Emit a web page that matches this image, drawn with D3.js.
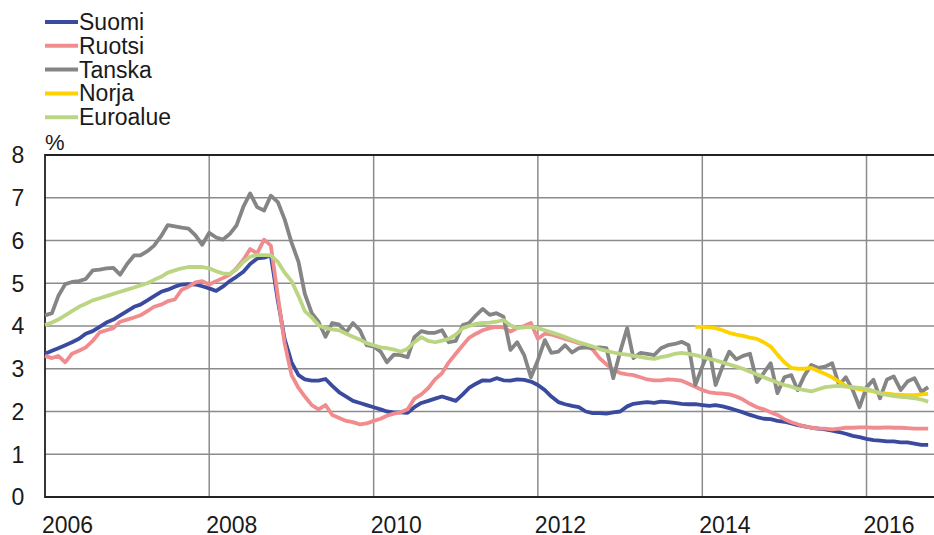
<!DOCTYPE html>
<html>
<head>
<meta charset="utf-8">
<script src="https://cdn.jsdelivr.net/npm/d3@7"></script>
<style>
  body { margin: 0; background: #fff; }
  svg { display: block; }
  text { font-family: "Liberation Sans", Arial, sans-serif; fill: #1a1a1a; }
</style>
</head>
<body>
<svg id="chart" width="934" height="535"></svg>
<script>
// ------------------------------------------------------
// DATA (monthly, first value = January 2006)
// ------------------------------------------------------

var startMonth = new Date(2006, 0, 1);

var suomi = [
  3.35, 3.42, 3.48, 3.55, 3.62, 3.7, 3.82, 3.88, 3.98, 4.08, 4.15, 4.25,   // 2006
  4.35, 4.45, 4.5, 4.6, 4.7, 4.8, 4.85, 4.92, 4.97, 4.98, 4.97, 4.93,      // 2007
  4.88, 4.82, 4.92, 5.05, 5.15, 5.27, 5.45, 5.58, 5.6, 5.65, 4.6, 3.7,     // 2008
  3.15, 2.85, 2.75, 2.72, 2.72, 2.76, 2.6, 2.45, 2.35, 2.25, 2.2, 2.15,    // 2009
  2.1, 2.05, 2.0, 1.98, 1.98, 1.97, 2.1, 2.2, 2.25, 2.3, 2.35, 2.3,        // 2010
  2.25, 2.4, 2.55, 2.65, 2.73, 2.72, 2.78, 2.73, 2.72, 2.75, 2.74, 2.7,    // 2011
  2.62, 2.5, 2.35, 2.22, 2.17, 2.13, 2.1, 2.0, 1.96, 1.96, 1.95, 1.98,     // 2012
  2.0, 2.12, 2.18, 2.2, 2.22, 2.2, 2.23, 2.22, 2.2, 2.18, 2.17, 2.17,      // 2013
  2.15, 2.13, 2.15, 2.12, 2.08, 2.03, 1.98, 1.92, 1.87, 1.83, 1.82, 1.78,  // 2014
  1.76, 1.72, 1.68, 1.65, 1.62, 1.6, 1.58, 1.55, 1.52, 1.48, 1.43, 1.4,    // 2015
  1.36, 1.33, 1.32, 1.3, 1.3, 1.28, 1.28, 1.25, 1.22, 1.22                 // 2016
];

var ruotsi = [
  3.3, 3.25, 3.3, 3.15, 3.35, 3.42, 3.5, 3.65, 3.85, 3.9, 3.95, 4.1,
  4.15, 4.2, 4.25, 4.35, 4.45, 4.5, 4.58, 4.62, 4.85, 4.92, 5.02, 5.05,
  4.97, 5.05, 5.12, 5.2, 5.35, 5.55, 5.8, 5.7, 6.02, 5.88, 4.7, 3.6,
  2.85, 2.55, 2.35, 2.15, 2.05, 2.15, 1.92, 1.85, 1.78, 1.75, 1.7, 1.72,
  1.78, 1.83, 1.9, 1.95, 1.98, 2.05, 2.3, 2.4, 2.55, 2.75, 2.9, 3.15,
  3.35, 3.55, 3.72, 3.82, 3.9, 3.95, 3.98, 3.97, 3.87, 3.95, 4.0, 4.07,
  3.7, 3.82, 3.8, 3.75, 3.7, 3.65, 3.6, 3.55, 3.45, 3.25, 3.1, 2.98,
  2.9, 2.87, 2.85, 2.8, 2.75, 2.73, 2.73, 2.75, 2.74, 2.72, 2.65, 2.58,
  2.5, 2.45, 2.43, 2.42, 2.4, 2.35, 2.28, 2.18, 2.1, 2.05, 1.98, 1.92,
  1.82, 1.75, 1.7, 1.65, 1.62, 1.6, 1.6, 1.58, 1.6, 1.62, 1.62, 1.63,
  1.63, 1.62, 1.62, 1.63, 1.62, 1.62, 1.61, 1.6, 1.6, 1.6
];

var tanska = [
  4.25, 4.3, 4.7, 4.98, 5.03, 5.05, 5.1, 5.3, 5.32, 5.35, 5.36, 5.2,
  5.45, 5.65, 5.65, 5.75, 5.88, 6.1, 6.36, 6.33, 6.3, 6.28, 6.12, 5.9,
  6.18, 6.07, 6.02, 6.15, 6.35, 6.79, 7.1, 6.78, 6.7, 7.05, 6.9, 6.5,
  5.95, 5.5, 4.75, 4.3, 4.1, 3.75, 4.07, 4.03, 3.85, 4.07, 3.9, 3.55,
  3.52, 3.4, 3.15, 3.33, 3.32, 3.27, 3.74, 3.88, 3.84, 3.84, 3.9, 3.62,
  3.65, 4.02, 4.07, 4.25, 4.4, 4.26, 4.3, 4.22, 3.44, 3.62, 3.32, 2.8,
  3.2, 3.67, 3.37, 3.4, 3.55, 3.38, 3.48, 3.5, 3.48, 3.5, 3.48, 2.78,
  3.4, 3.95, 3.25, 3.37, 3.35, 3.32, 3.48, 3.55, 3.58, 3.63, 3.55, 2.62,
  3.05, 3.44, 2.62, 3.05, 3.4, 3.22, 3.3, 3.35, 2.69, 2.9, 3.13, 2.43,
  2.8, 2.85, 2.5, 2.85, 3.09, 3.02, 3.05, 3.13, 2.62, 2.8, 2.5, 2.1,
  2.57, 2.74, 2.31, 2.75, 2.82, 2.5, 2.7, 2.78, 2.46, 2.57
];

// Norja starts later (December 2013 = month 95)
var norjaStart = 95;
var norja = [
  3.98,
  3.98, 3.97, 3.95, 3.9, 3.84, 3.8, 3.77, 3.73, 3.7, 3.62, 3.52, 3.33,
  3.15, 3.02, 3.0, 3.0, 3.02, 2.95, 2.88, 2.8, 2.7, 2.6, 2.55, 2.52,
  2.5, 2.47, 2.43, 2.42, 2.4, 2.39, 2.38, 2.38, 2.4, 2.41
];

var euroalue = [
  4.02, 4.08, 4.15, 4.25, 4.35, 4.45, 4.52, 4.6, 4.65, 4.7, 4.75, 4.8,
  4.85, 4.9, 4.95, 5.0, 5.08, 5.15, 5.25, 5.3, 5.35, 5.38, 5.38, 5.38,
  5.35, 5.28, 5.23, 5.22, 5.32, 5.5, 5.62, 5.66, 5.66, 5.65, 5.5, 5.25,
  5.05, 4.7, 4.35, 4.2, 4.02, 3.95, 3.92, 3.9, 3.82, 3.75, 3.68, 3.6,
  3.55, 3.5, 3.48, 3.45, 3.4, 3.47, 3.62, 3.74, 3.65, 3.62, 3.66, 3.7,
  3.8, 3.95, 4.0, 4.05, 4.07, 4.08, 4.1, 4.14, 4.02, 3.95, 3.97, 3.98,
  3.95, 3.9, 3.85, 3.8, 3.74, 3.68, 3.62, 3.57, 3.52, 3.46, 3.42, 3.38,
  3.35, 3.33, 3.3, 3.28, 3.25, 3.23, 3.27, 3.3, 3.35, 3.37, 3.35, 3.32,
  3.28, 3.23, 3.2, 3.15, 3.1, 3.05, 3.0, 2.93, 2.87, 2.8, 2.74, 2.68,
  2.62, 2.58, 2.53, 2.5, 2.47, 2.52, 2.57, 2.59, 2.6, 2.58, 2.57, 2.55,
  2.53, 2.48, 2.42, 2.39, 2.36, 2.34, 2.33, 2.31, 2.28, 2.23
];

var seriesNames = ["Suomi", "Ruotsi", "Tanska", "Norja", "Euroalue"];
var seriesColors = ["#3a4a9e", "#f08c8e", "#858585", "#fcd200", "#bcd582"];
var yTicks = [0, 1, 2, 3, 4, 5, 6, 7, 8];
var xTickYears = [2006, 2008, 2010, 2012, 2014, 2016];

// ------------------------------------------------------
// SCALES
// ------------------------------------------------------

var svg = d3.select("#chart");
var plotLeft = 45, plotRight = 934, plotTop = 155, plotBottom = 497;

var x = d3.scaleTime()
  .domain([new Date(2006, 0, 1), new Date(2016, 9, 27)])
  .range([plotLeft, plotRight]);

var y = d3.scaleLinear()
  .domain([0, 8])
  .range([plotBottom, plotTop]);

function toPoints(values, offset) {
  return values.map(function (v, i) {
    return { date: d3.timeMonth.offset(startMonth, offset + i), value: v };
  });
}

var allSeries = [
  toPoints(suomi, 0),
  toPoints(ruotsi, 0),
  toPoints(tanska, 0),
  toPoints(norja, norjaStart),
  toPoints(euroalue, 0)
];

// ------------------------------------------------------
// GRID AND AXES
// ------------------------------------------------------

svg.append("g")
  .selectAll("line")
  .data(yTicks.filter(function (d) { return d > 0 && d < 8; }))
  .join("line")
  .attr("x1", plotLeft).attr("x2", plotRight)
  .attr("y1", function (d) { return y(d); })
  .attr("y2", function (d) { return y(d); })
  .attr("stroke", "#8c8c8c")
  .attr("stroke-width", 1.5);

svg.append("g")
  .selectAll("line")
  .data(xTickYears.slice(1))
  .join("line")
  .attr("x1", function (d) { return x(new Date(d, 0, 1)); })
  .attr("x2", function (d) { return x(new Date(d, 0, 1)); })
  .attr("y1", plotTop).attr("y2", plotBottom)
  .attr("stroke", "#8c8c8c")
  .attr("stroke-width", 1.5);

// frame: top, left, bottom
svg.append("path")
  .attr("d", "M" + plotRight + "," + y(8) + "H" + plotLeft + "V" + y(0) + "H" + plotRight)
  .attr("fill", "none")
  .attr("stroke", "#222")
  .attr("stroke-width", 1.8);

svg.append("g")
  .selectAll("text")
  .data(yTicks)
  .join("text")
  .attr("x", 18)
  .attr("y", function (d) { return y(d); })
  .attr("dy", "0.36em")
  .attr("text-anchor", "middle")
  .style("font-size", "23px")
  .text(function (d) { return d; });

svg.append("g")
  .selectAll("text")
  .data(xTickYears)
  .join("text")
  .attr("x", function (d) { return x(new Date(d, 0, 1)) - 3; })
  .attr("y", 533)
  .style("font-size", "23px")
  .text(function (d) { return d; });

svg.append("text")
  .attr("x", 45)
  .attr("y", 150)
  .style("font-size", "22px")
  .text("%");

// ------------------------------------------------------
// LINES
// ------------------------------------------------------

var line = d3.line()
  .x(function (d) { return x(d.date); })
  .y(function (d) { return y(d.value); });

svg.append("g")
  .selectAll("path")
  .data(allSeries)
  .join("path")
  .attr("d", line)
  .attr("fill", "none")
  .attr("stroke", function (d, i) { return seriesColors[i]; })
  .attr("stroke-width", 3.8)
  .attr("stroke-linejoin", "round");

// ------------------------------------------------------
// LEGEND
// ------------------------------------------------------

var legend = svg.append("g")
  .selectAll("g")
  .data(seriesNames)
  .join("g")
  .attr("transform", function (d, i) { return "translate(45," + (30 + i * 23.8) + ")"; });

legend.append("line")
  .attr("x1", 0).attr("x2", 33)
  .attr("y1", -8).attr("y2", -8)
  .attr("stroke", function (d, i) { return seriesColors[i]; })
  .attr("stroke-width", 4);

legend.append("text")
  .attr("x", 34)
  .attr("y", 0)
  .style("font-size", "23px")
  .text(function (d) { return d; });
</script>
</body>
</html>
